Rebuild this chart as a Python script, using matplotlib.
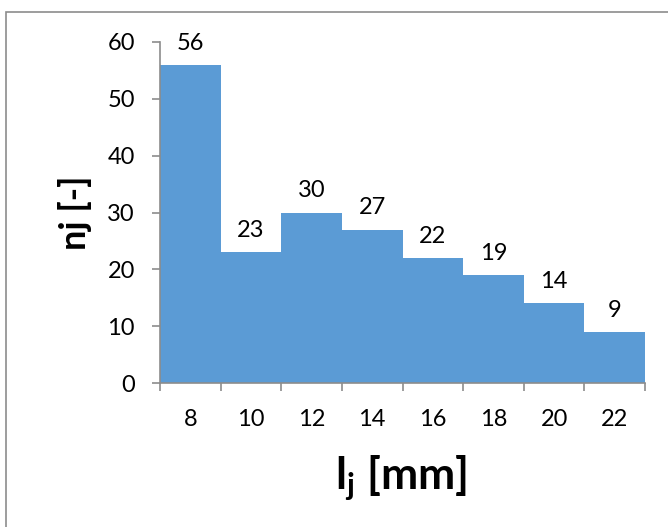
import matplotlib
matplotlib.use("Agg")
import matplotlib.pyplot as plt
from matplotlib.patches import Rectangle
import numpy as np

# Class midpoints and counts
lengths = [8, 10, 12, 14, 16, 18, 20, 22]
counts = [56, 23, 30, 27, 22, 19, 14, 9]

plt.rcParams['font.family'] = ['Lato', 'DejaVu Sans']
plt.rcParams['mathtext.default'] = 'regular'

W, H = 668, 527
fig = plt.figure(figsize=(W / 100, H / 100), dpi=100)
ax = fig.add_axes([160 / W, 1 - 383 / H, (645 - 160) / W, (383 - 42) / H])

# outer chart frame
fig.patches.append(Rectangle((6 / W, -0.01), 1.0, 1 - 12 / H + 0.01,
                             transform=fig.transFigure, fill=False,
                             edgecolor='#8c8c8c', linewidth=1.2))

x = np.arange(len(lengths))
ax.bar(x, counts, width=1.0, color='#5b9bd5', edgecolor='none')

for xi, c in zip(x, counts):
    ax.annotate(str(c), (xi, c), xytext=(0, 8), textcoords='offset points',
                ha='center', va='bottom', fontsize=17, color='#000000')

ax.set_xlim(-0.5, len(lengths) - 0.5)
ax.set_ylim(0, 60)
ax.set_yticks(range(0, 61, 10))
ax.set_xticks(np.arange(len(lengths) + 1) - 0.5)
ax.set_xticklabels([])
ax.set_xticks(x, minor=True)
ax.set_xticklabels([str(v) for v in lengths], minor=True)
ax.tick_params(axis='x', which='minor', length=0, pad=19, labelsize=17)
ax.tick_params(axis='x', which='major', length=6, color='#8c8c8c', width=1.2)
ax.tick_params(axis='y', length=6, color='#8c8c8c', width=1.2, pad=12, labelsize=17)

for s in ['top', 'right']:
    ax.spines[s].set_visible(False)
for s in ['left', 'bottom']:
    ax.spines[s].set_color('#8c8c8c')
    ax.spines[s].set_linewidth(1.2)

# axis titles
fig.text(75 / W, 1 - 213 / H, 'nj [-]', rotation=90, fontsize=26,
         fontweight='bold', ha='center', va='center')
fig.text(401 / W, 1 - 478 / H, 'l$_{j}$ [mm]', fontsize=32,
         fontweight='bold', ha='center', va='center')

fig.savefig('out.png', dpi=100)
